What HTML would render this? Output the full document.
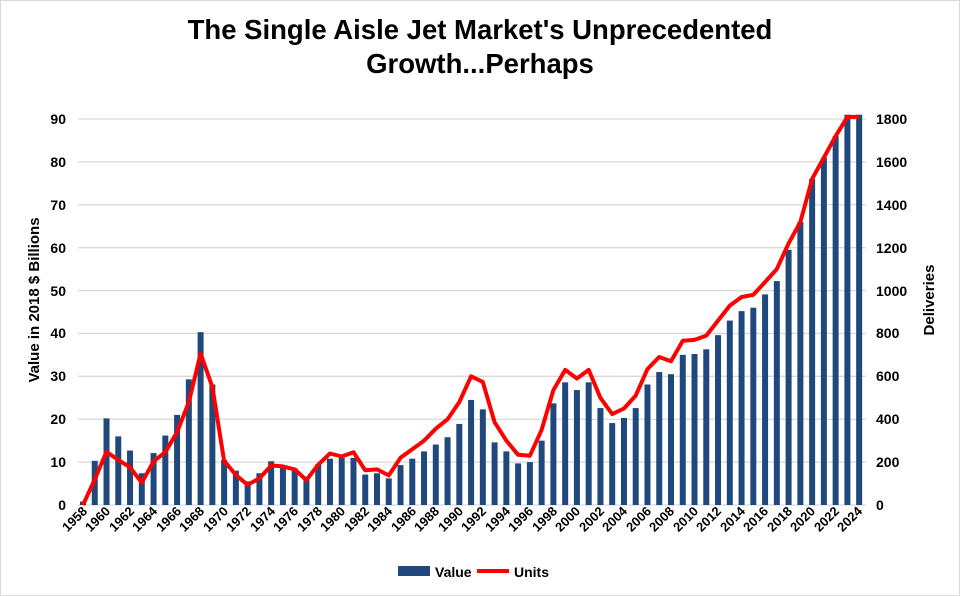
<!DOCTYPE html>
<html><head><meta charset="utf-8"><style>
html,body{margin:0;padding:0;background:#fff}
svg{display:block;font-family:"Liberation Sans",Arial,sans-serif;font-weight:bold}
</style></head><body>
<svg id="s" width="960" height="596" viewBox="0 0 960 596" xmlns="http://www.w3.org/2000/svg">
<rect x="0.5" y="0.5" width="959" height="595" fill="#fff" stroke="#d9d9d9"/>
<text x="480" y="39" font-size="27.5" text-anchor="middle">The Single Aisle Jet Market's Unprecedented</text>
<text x="480" y="73" font-size="27.5" text-anchor="middle">Growth...Perhaps</text>
<g id="grid" stroke="#d9d9d9" stroke-width="1.3"></g>
<g id="bars" fill="#1f497d"></g>
<polyline id="ln" fill="none" stroke="#ff0000" stroke-width="4" stroke-linejoin="round"/>
<g font-size="14" text-anchor="end">
<text x="66" y="510">0</text><text x="66" y="467">10</text><text x="66" y="424">20</text><text x="66" y="381">30</text><text x="66" y="338">40</text><text x="66" y="296">50</text><text x="66" y="253">60</text><text x="66" y="210">70</text><text x="66" y="167">80</text><text x="66" y="124">90</text>
</g>
<g font-size="14" text-anchor="start">
<text x="876" y="510">0</text><text x="876" y="467">200</text><text x="876" y="424">400</text><text x="876" y="381">600</text><text x="876" y="338">800</text><text x="876" y="296">1000</text><text x="876" y="253">1200</text><text x="876" y="210">1400</text><text x="876" y="167">1600</text><text x="876" y="124">1800</text>
</g>
<text font-size="15" text-anchor="middle" transform="translate(39,300) rotate(-90)">Value in 2018 $ Billions</text>
<text font-size="15" text-anchor="middle" transform="translate(934,300) rotate(-90)">Deliveries</text>
<g id="xl" font-size="13" text-anchor="end">
<text transform="translate(88,512) rotate(-45)">1958</text><text transform="translate(111,512) rotate(-45)">1960</text><text transform="translate(135,512) rotate(-45)">1962</text><text transform="translate(158,512) rotate(-45)">1964</text><text transform="translate(182,512) rotate(-45)">1966</text><text transform="translate(205,512) rotate(-45)">1968</text><text transform="translate(229,512) rotate(-45)">1970</text><text transform="translate(252,512) rotate(-45)">1972</text><text transform="translate(276,512) rotate(-45)">1974</text><text transform="translate(299,512) rotate(-45)">1976</text><text transform="translate(323,512) rotate(-45)">1978</text><text transform="translate(346,512) rotate(-45)">1980</text><text transform="translate(370,512) rotate(-45)">1982</text><text transform="translate(393,512) rotate(-45)">1984</text><text transform="translate(417,512) rotate(-45)">1986</text><text transform="translate(440,512) rotate(-45)">1988</text><text transform="translate(464,512) rotate(-45)">1990</text><text transform="translate(487,512) rotate(-45)">1992</text><text transform="translate(511,512) rotate(-45)">1994</text><text transform="translate(534,512) rotate(-45)">1996</text><text transform="translate(558,512) rotate(-45)">1998</text><text transform="translate(581,512) rotate(-45)">2000</text><text transform="translate(605,512) rotate(-45)">2002</text><text transform="translate(628,512) rotate(-45)">2004</text><text transform="translate(652,512) rotate(-45)">2006</text><text transform="translate(675,512) rotate(-45)">2008</text><text transform="translate(699,512) rotate(-45)">2010</text><text transform="translate(722,512) rotate(-45)">2012</text><text transform="translate(746,512) rotate(-45)">2014</text><text transform="translate(769,512) rotate(-45)">2016</text><text transform="translate(793,512) rotate(-45)">2018</text><text transform="translate(816,512) rotate(-45)">2020</text><text transform="translate(840,512) rotate(-45)">2022</text><text transform="translate(863,512) rotate(-45)">2024</text>
</g>
<rect x="398" y="566" width="32" height="10" fill="#1f497d"/>
<text x="435" y="577" font-size="14">Value</text>
<line x1="477" y1="571" x2="509" y2="571" stroke="#ff0000" stroke-width="4"/>
<text x="514" y="577" font-size="14">Units</text>
</svg>
<script>
var v=[0.8,10.3,20.2,16,12.7,7.4,12.1,16.2,21,29.3,40.3,28.1,10.5,8,5.5,7.4,10.2,9,8.5,6.2,9.5,10.8,11,11,7.1,7.4,6.2,9.3,10.8,12.5,14.1,15.8,18.9,24.5,22.3,14.6,12.5,9.7,10,15,23.7,28.6,26.8,28.6,22.6,19.1,20.3,22.6,28.1,31,30.5,35,35.2,36.3,39.6,43,45.2,46,49.1,52.2,59.5,66,76,81,86,91,91];
var u=[0,6,12.4,10.5,8.8,5.2,10.2,12.3,17,24,35.3,27.5,10.3,7,4.7,6.2,9.2,9,8.3,5.8,9.4,12,11.3,12.3,8.1,8.3,6.9,11,13,15,17.8,20,24,30,28.7,19.3,15,11.7,11.5,17.5,26.8,31.5,29.5,31.5,25,21.2,22.5,25.5,31.7,34.5,33.5,38.3,38.5,39.5,43,46.5,48.5,49,52,55,61,66,76,81,86,90.5,90.5];
var ns="http://www.w3.org/2000/svg",k=(505-119)/90;
var g=document.getElementById("grid");
for(var j=0;j<=9;j++){var l=document.createElementNS(ns,"line"),y=505-j*10*k;l.setAttribute("x1",78);l.setAttribute("x2",866);l.setAttribute("y1",y);l.setAttribute("y2",y);g.appendChild(l);}
var b=document.getElementById("bars"),pts=[];
for(var i=0;i<v.length;i++){var x=83+i*11.76,h=v[i]*k,r=document.createElementNS(ns,"rect");
r.setAttribute("x",x-3);r.setAttribute("width",6);r.setAttribute("y",505-h);r.setAttribute("height",h);b.appendChild(r);
pts.push(x.toFixed(1)+","+(505-u[i]*k).toFixed(1));}
document.getElementById("ln").setAttribute("points",pts.join(" "));
</script>
</body></html>
